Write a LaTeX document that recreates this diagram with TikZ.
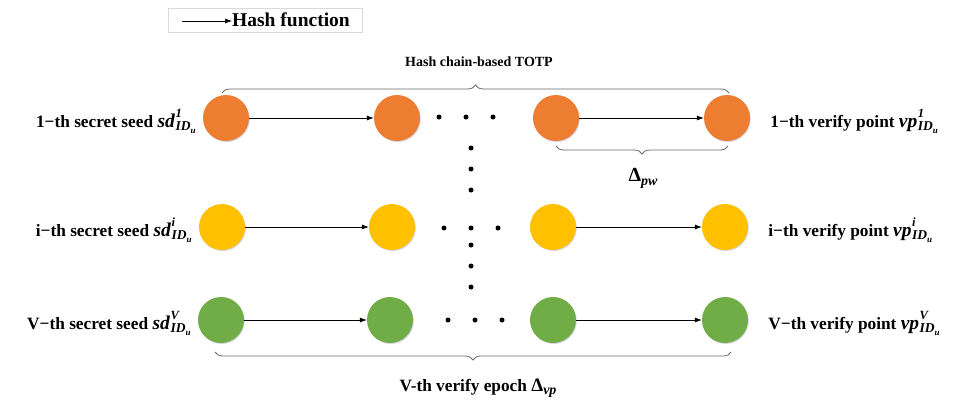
\documentclass[tikz,border=0pt]{standalone}
\usepackage{amsmath}
\usepackage{fontspec}
\setmainfont{Liberation Serif}
\usetikzlibrary{arrows.meta,decorations.pathreplacing,shadows,calc}

\definecolor{seedorange}{RGB}{237,125,49}
\definecolor{seedgold}{RGB}{255,192,0}
\definecolor{seedgreen}{RGB}{112,173,71}
\definecolor{bracegray}{RGB}{105,105,105}
\definecolor{boxgray}{RGB}{215,218,222}

% bold italic symbols
\newcommand{\bit}[1]{\textbf{\textit{#1}}}
% symbol with a superscript and the subscript ID_u
\newcommand{\idsym}[2]{%
  {\fontsize{19.5}{19.5}\selectfont\bit{#1}}\kern0.5pt
  \rlap{\raisebox{9.5pt}{\fontsize{12.5}{12.5}\selectfont\bit{#2}}}%
  \raisebox{-3pt}{\fontsize{13.5}{13.5}\selectfont\bit{ID}%
    \raisebox{-3pt}{\fontsize{9}{9}\selectfont\bit{u}}}}

\begin{document}
\begin{tikzpicture}[x=1pt,y=-1pt,
  seedball/.style={circle, minimum size=46pt, inner sep=0pt, draw=none,
    drop shadow={shadow xshift=0.8pt, shadow yshift=-1pt, opacity=0.25, fill=blue!30!gray}},
  orangeball/.style={seedball, fill=seedorange},
  goldball/.style={seedball, fill=seedgold},
  greenball/.style={seedball, fill=seedgreen},
  hash/.style={-{Latex[length=7pt,width=5pt]}, line width=0.6pt},
  lbl/.style={font=\bfseries\fontsize{17.3}{19}\selectfont, inner sep=0pt},
  chaindot/.style={circle, fill=black, inner sep=0pt, minimum size=5pt},
  bracket/.style={draw=bracegray, line width=0.8pt, decorate,
    decoration={brace, amplitude=8pt}}]
\useasboundingbox (0,0) rectangle (955,405);

% legend
\node[draw=boxgray, line width=0.8pt, minimum width=194pt, minimum height=24pt,
  inner sep=0pt] (legend) at (265,20) {};
\node[font=\bfseries\fontsize{19.5}{22}\selectfont, anchor=west, inner sep=0pt]
  (legtext) at (232,20) {Hash function};
\coordinate (legstart) at (182,21);
\draw[hash] (legstart) -- (legtext.west |- legstart);

% first chain
\node[orangeball] (a1) at (226,118) {};
\node[orangeball] (b1) at (397,118) {};
\node[orangeball] (c1) at (556,118) {};
\node[orangeball] (d1) at (727,118) {};
% i-th chain
\node[goldball] (a2) at (222,227) {};
\node[goldball] (b2) at (392,227) {};
\node[goldball] (c2) at (553,227) {};
\node[goldball] (d2) at (725,227) {};
% V-th chain
\node[greenball] (a3) at (221,320) {};
\node[greenball] (b3) at (390,320) {};
\node[greenball] (c3) at (553,320) {};
\node[greenball] (d3) at (725,320) {};

% hash steps
\foreach \r in {1,2,3}{
  \draw[hash] (a\r) -- (b\r);
  \draw[hash] (c\r) -- (d\r);
}

% ellipses between the chains
\foreach \n/\x/\y in {h1/439/117, h2/466/117, h3/493/117,
                      v1/471/148, v2/471/169, v3/471/190,
                      m1/444/228, m2/471/228, m3/498/228,
                      w1/471/245, w2/471/266, w3/471/287,
                      g1/448/320, g2/475/320, g3/502/320}
  \node[chaindot] (\n) at (\x,\y) {};

% seed labels
\node[lbl, anchor=base east] (s1) at ($(a1.west)+(-7,9)$)
  {1−th secret seed \idsym{sd}{1}};
\node[lbl, anchor=base east] (s2) at ($(a2.west)+(-7,9)$)
  {i−th secret seed \idsym{sd}{i}};
\node[lbl, anchor=base east] (s3) at ($(a3.west)+(-7,9)$)
  {V−th secret seed \idsym{sd}{V}};

% verify point labels
\node[lbl, anchor=base west] (p1) at ($(d1.east)+(20,9)$)
  {1−th verify point \idsym{vp}{1}};
\node[lbl, anchor=base west] (p2) at ($(d2.east)+(20,9)$)
  {i−th verify point \idsym{vp}{i}};
\node[lbl, anchor=base west] (p3) at ($(d3.east)+(20,9)$)
  {V−th verify point \idsym{vp}{V}};

% braces
\draw[bracket] (222,93) -- (729,93);
\node[lbl, font=\bfseries\fontsize{14}{16}\selectfont] (totp) at (479,62)
  {Hash chain-based TOTP};

\draw[bracket] (728,146) -- (556,146);
\node[inner sep=0pt] (dpw) at (643,178)
  {{\bfseries\fontsize{20}{20}\selectfont Δ}\raisebox{-4pt}{\fontsize{14}{14}\selectfont\bit{pw}}};

\draw[bracket] (731,352) -- (215,352);
\node[lbl] (epoch) at (478,388)
  {V-th verify epoch {\fontsize{19}{19}\selectfont Δ}\raisebox{-3.5pt}{\fontsize{14}{14}\selectfont\bit{vp}}};
\end{tikzpicture}
\end{document}
